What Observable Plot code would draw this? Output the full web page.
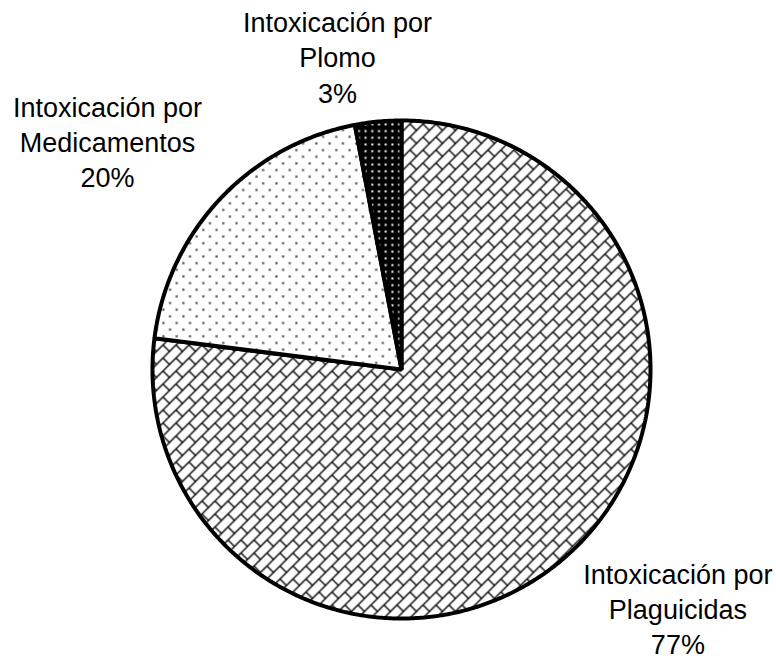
<!DOCTYPE html>
<html>
<head>
<meta charset="utf-8">
<script src="https://cdn.jsdelivr.net/npm/d3@7"></script>
<script src="https://cdn.jsdelivr.net/npm/@observablehq/plot@0.6"></script>
<style>
  html, body { margin: 0; padding: 0; background: #fff; }
  #chart svg { display: block; }
</style>
</head>
<body>
<div id="chart"></div>
<script>
// ---- data ----
const categories = ["Intoxicación por Plaguicidas", "Intoxicación por Medicamentos", "Intoxicación por Plomo"];
const values = [77, 20, 3];
const patterns = ["brick", "dots", "darkdots"];

// ---- layout (label anchors in data units; kept apart from the data) ----
const labelAnchor = [
  {x: 1.110, y: -0.760},
  {x: -1.181, y: 1.116},
  {x: -0.257, y: 1.454}
];

const total = d3.sum(values);
const pie = d3.pie().sort(null).value(d => d)(values);

// polygon points for each slice (angles clockwise from 12 o'clock)
const slices = pie.map((p, i) => {
  const pts = [{x: 0, y: 0}];
  const n = Math.max(2, Math.ceil((p.endAngle - p.startAngle) / (Math.PI / 360)));
  for (let k = 0; k <= n; k++) {
    const a = p.startAngle + (p.endAngle - p.startAngle) * k / n;
    pts.push({x: Math.sin(a), y: Math.cos(a)});
  }
  return {cat: categories[i], pts};
});

const labels = categories.map((c, i) => {
  const [head, tail] = c.split(" por ");
  return {
    text: head + " por\n" + tail + "\n" + Math.round(values[i] / total * 100) + "%",
    x: labelAnchor[i].x,
    y: labelAnchor[i].y
  };
});

const plot = Plot.plot({
  width: 776,
  height: 660,
  marginLeft: 152,
  marginRight: 126,
  marginTop: 120,
  marginBottom: 42,
  x: {domain: [-1, 1], axis: null},
  y: {domain: [-1, 1], axis: null},
  style: {background: "white", fontFamily: "'Liberation Sans', Arial, sans-serif"},
  marks: [
    ...slices.map((s, i) => Plot.line(s.pts, {
      x: "x", y: "y",
      curve: "linear-closed",
      fill: `url(#pat-${patterns[i]})`,
      stroke: "black",
      strokeWidth: 4,
      strokeLinejoin: "miter"
    })),
    Plot.text(labels, {
      x: "x", y: "y", text: "text",
      fontSize: 27,
      lineHeight: 1.3,
      lineAnchor: "top",
      textAnchor: "middle",
      fill: "black"
    })
  ]
});

// pattern definitions
const defs = `
<defs>
  <pattern id="pat-brick" patternUnits="userSpaceOnUse" width="13" height="13">
    <rect width="13" height="13" fill="white"/>
    <path d="M-1,14 L14,-1 M-3,3 L3,-3 M10,16 L16,10 M6.5,6.5 L13,13" stroke="black" stroke-width="1.4" fill="none"/>
  </pattern>
  <pattern id="pat-dots" patternUnits="userSpaceOnUse" width="13.3" height="13.3">
    <rect width="13.3" height="13.3" fill="white"/>
    <rect x="2.2" y="2.2" width="2.2" height="2.2" fill="#555"/>
    <rect x="8.85" y="8.85" width="2.2" height="2.2" fill="#555"/>
  </pattern>
  <pattern id="pat-darkdots" patternUnits="userSpaceOnUse" width="6.7" height="6.7">
    <rect width="6.7" height="6.7" fill="black"/>
    <rect x="2.3" y="2.3" width="2" height="2" fill="white"/>
  </pattern>
</defs>`;
plot.insertAdjacentHTML("afterbegin", defs);

document.getElementById("chart").appendChild(plot);
</script>
</body>
</html>
